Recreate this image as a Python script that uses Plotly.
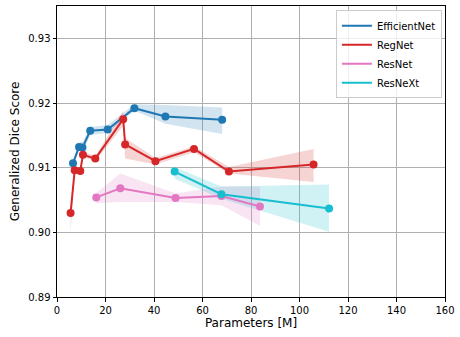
import plotly.graph_objects as go

# EfficientNet
eff_x = [6.6, 9.1, 10.5, 13.7, 20.9, 31.9, 44.7, 68.1]
eff_y = [0.9107, 0.9132, 0.9131, 0.9157, 0.9159, 0.9192, 0.9179, 0.9174]
eff_hi = [0.9112, 0.9139, 0.9140, 0.9163, 0.9166, 0.9198, 0.9197, 0.9193]
eff_lo = [0.9102, 0.9126, 0.9124, 0.9150, 0.9154, 0.9188, 0.9168, 0.9152]

# RegNet
reg_x = [5.6, 7.3, 9.6, 10.7, 15.8, 27.3, 28.1, 40.6, 56.5, 70.9, 105.8]
reg_y = [0.9030, 0.9096, 0.9095, 0.9120, 0.9114, 0.9175, 0.9136, 0.9110, 0.9129, 0.9094, 0.9105]
reg_hi = [0.9036, 0.9098, 0.9097, 0.9125, 0.9118, 0.9188, 0.9146, 0.9115, 0.9133, 0.9101, 0.9129]
reg_lo = [0.9001, 0.9094, 0.9093, 0.9117, 0.9110, 0.9165, 0.9114, 0.9105, 0.9124, 0.9091, 0.9078]

# ResNet
res_x = [16.2, 26.1, 48.9, 67.8, 83.7]
res_y = [0.9054, 0.9068, 0.9053, 0.9056, 0.9040]
res_hi = [0.9061, 0.9091, 0.9060, 0.9071, 0.9071]
res_lo = [0.9045, 0.9047, 0.9047, 0.9042, 0.9010]

# ResNeXt
rnx_x = [48.5, 67.8, 112.2]
rnx_y = [0.9094, 0.9059, 0.9037]
rnx_hi = [0.9101, 0.9071, 0.9074]
rnx_lo = [0.9083, 0.9052, 0.9001]

series = [
    ("EfficientNet", "#1f77b4", "rgba(31,119,180,0.2)", eff_x, eff_y, eff_hi, eff_lo),
    ("RegNet", "#d62728", "rgba(214,39,40,0.2)", reg_x, reg_y, reg_hi, reg_lo),
    ("ResNet", "#e377c2", "rgba(227,119,194,0.2)", res_x, res_y, res_hi, res_lo),
    ("ResNeXt", "#17becf", "rgba(23,190,207,0.2)", rnx_x, rnx_y, rnx_hi, rnx_lo),
]

fig = go.Figure()
for name, col, fcol, xs, ys, hi, lo in series:
    fig.add_trace(go.Scatter(x=xs + xs[::-1], y=hi + lo[::-1], fill="toself",
                             fillcolor=fcol, line=dict(width=0), mode="lines",
                             showlegend=False, hoverinfo="skip"))
for name, col, fcol, xs, ys, hi, lo in series:
    fig.add_trace(go.Scatter(x=xs, y=ys, mode="lines+markers",
                             line=dict(color=col, width=2),
                             marker=dict(color=col, size=8),
                             showlegend=False))
for name, col, fcol, xs, ys, hi, lo in series:
    fig.add_trace(go.Scatter(x=[None], y=[None], mode="lines", name=name,
                             line=dict(color=col, width=2)))

fig.update_layout(
    width=460, height=337,
    margin=dict(l=57, r=10, t=5, b=40),
    paper_bgcolor="white", plot_bgcolor="white",
    font=dict(family="DejaVu Sans", size=10, color="black"),
    legend=dict(x=0.992, y=0.985, xanchor="right", yanchor="top",
                bgcolor="rgba(255,255,255,0.8)", bordercolor="#cccccc", borderwidth=1,
                font=dict(size=10), tracegroupgap=0, itemwidth=30),
    xaxis=dict(range=[0, 160], dtick=20, tick0=0, showgrid=True, gridcolor="#b0b0b0",
               gridwidth=1, zeroline=False, showline=True, linecolor="black", linewidth=1,
               mirror=True, ticks="outside", ticklen=3.5, tickcolor="black",
               title=dict(text="Parameters [M]", standoff=4)),
    yaxis=dict(range=[0.89, 0.935], dtick=0.01, tick0=0.89, tickformat=".2f",
               showgrid=True, gridcolor="#b0b0b0", gridwidth=1, zeroline=False,
               showline=True, linecolor="black", linewidth=1, mirror=True,
               ticks="outside", ticklen=3.5, tickcolor="black",
               title=dict(text="Generalized Dice Score", standoff=6)),
)
fig.write_html("out.html")
